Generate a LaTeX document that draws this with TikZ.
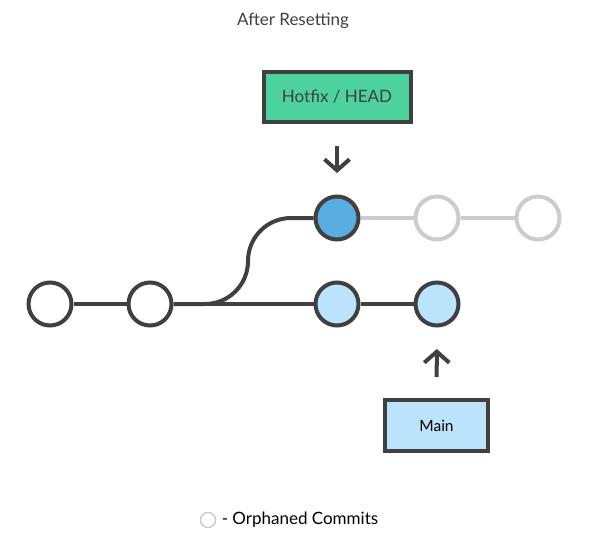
\documentclass[tikz,border=0pt]{standalone}
\usepackage{fontspec}
\setmainfont{Lato}
\usepackage{xcolor}
\usetikzlibrary{positioning, arrows.meta}

\definecolor{ink}{HTML}{404040}
\definecolor{ghost}{HTML}{CCCCCC}
\definecolor{headblue}{HTML}{5AADE0}
\definecolor{paleblue}{HTML}{BBE4FC}
\definecolor{mint}{HTML}{4CD19F}

\begin{document}
\begin{tikzpicture}[
  x=1pt, y=-1pt,
  font=\fontsize{17}{19}\selectfont, text=ink,
  commit/.style={circle, draw=ink, line width=4pt, minimum size=43pt,
                 inner sep=0pt, fill=white},
  orphan/.style={commit, draw=ghost},
  branch/.style={draw=ink, line width=4pt, inner sep=0pt},
  edge/.style={draw=ink, line width=4pt},
  lost/.style={draw=ghost, line width=4pt},
  ptr/.style={-{Straight Barb[length=11pt, width=25pt, line width=4pt]},
              line width=4pt, ink},
]
\useasboundingbox (0,0) rectangle (592,535);

\node (title) at (293, 21) {After Resetting};

% commits
\node[commit] (c1) at (50, 304)  {};
\node[commit] (c2) at (150, 304) {};
\node[commit, fill=paleblue] (c3) at (337, 304) {};
\node[commit, fill=paleblue] (c4) at (437, 304) {};
\node[commit, fill=headblue] (head) at (337, 218) {};
\node[orphan] (o1) at (437, 218) {};
\node[orphan] (o2) at (538, 218) {};
\coordinate (bend) at (248, 218);

\draw[edge] (c1) -- (c2);
\draw[edge] (c2) -- (c3);
\draw[edge] (c3) -- (c4);
\draw[edge, rounded corners=43pt] (c2.east) -| (bend) -- (head.west);
\draw[lost] (head) -- (o1);
\draw[lost] (o1) -- (o2);

% branch labels
\node[branch, fill=mint, minimum width=147pt, minimum height=50pt]
  (hotfix) at (337, 97) {Hotfix / HEAD};
\node[branch, fill=paleblue, minimum width=103pt, minimum height=51pt,
      text=black, font=\fontsize{15.5}{17}\selectfont]
  (main) at (436.5, 425.5) {Main};

\draw[ptr, shorten <=22pt, shorten >=21.5pt] (hotfix) -- (head);
\draw[ptr, shorten <=21pt, shorten >=21.5pt] (main) -- (c4);

% legend
\node[circle, draw=ghost, line width=1.5pt, minimum size=15pt,
      inner sep=0pt] (key) at (208, 520) {};
\node[right=2pt of key, text=black] (keytext) {- Orphaned Commits};

\end{tikzpicture}
\end{document}
